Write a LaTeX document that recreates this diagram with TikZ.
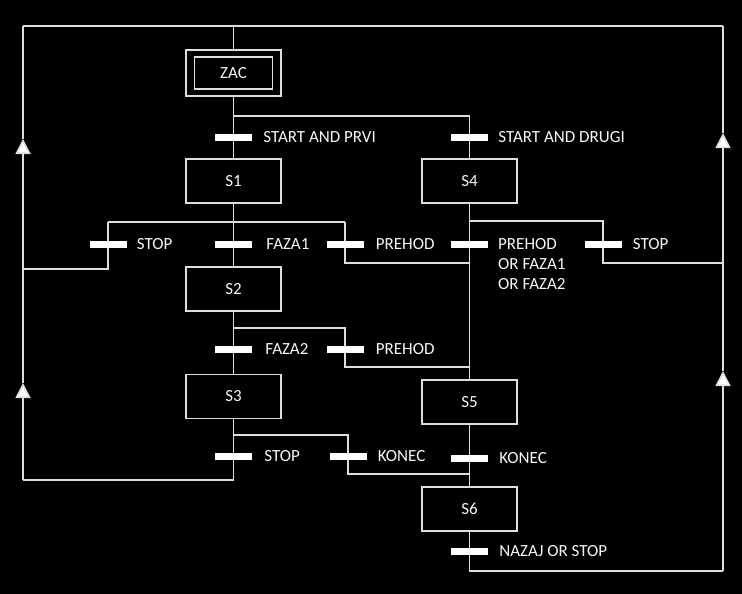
\documentclass[tikz,border=0pt]{standalone}
\usepackage{fontspec}
\setmainfont{Carlito}
\usetikzlibrary{positioning}
\usetikzlibrary{arrows.meta}
\pgfdeclarelayer{background}
\pgfsetlayers{background,main}
\definecolor{wire}{gray}{0.87}
\definecolor{ink}{gray}{0.97}
\tikzset{
  stepbox/.style={draw=wire, line width=1.5pt, fill=black, text=ink,
    minimum width=95pt, minimum height=44pt, font=\fontsize{17}{20}\selectfont},
  bar/.style={fill=white, minimum width=37pt, minimum height=7pt, inner sep=0pt},
  cond/.style={text=ink, inner sep=0pt, font=\fontsize{17}{20}\selectfont},
  link/.style={draw=wire, line width=1.6pt},
  flow/.style={-{Triangle[width=15pt,length=15pt,fill=white]}}
}

\begin{document}
\begin{tikzpicture}[x=1pt,y=-1pt]
\useasboundingbox (0,0) rectangle (742,594);

% steps
\node[stepbox, minimum height=46pt] (zac) at (233.5,73) {};
\node[stepbox, minimum width=78pt, minimum height=32pt] (zacin) at (zac) {ZAC};
\node[stepbox] (s1) at (233.5,181) {S1};
\node[stepbox] (s2) at (233.5,289) {S2};
\node[stepbox] (s3) at (233.5,396.5) {S3};
\node[stepbox] (s4) at (469.5,181) {S4};
\node[stepbox] (s5) at (469.5,402) {S5};
\node[stepbox] (s6) at (469.5,509) {S6};

% transitions
\node[bar] (t0) at (233.5,137) {};
\node[bar] (t4) at (469.5,137) {};
\node[bar] (tstopa) at (108,244) {};
\node[bar] (tfaza1) at (233.5,244) {};
\node[bar] (tprehoda) at (345,244) {};
\node[bar] (tor) at (469.5,244) {};
\node[bar] (tstopb) at (603,244) {};
\node[bar] (tfaza2) at (233.5,349) {};
\node[bar] (tprehodb) at (345,349) {};
\node[bar] (tstopc) at (233.5,456) {};
\node[bar] (tkoneca) at (348,456) {};
\node[bar] (tkonecb) at (469.5,458) {};
\node[bar] (tnazaj) at (469.5,551) {};

% conditions
\node[cond, right=11pt of t0] (c0) {START AND PRVI};
\node[cond, right=10pt of t4] (c4) {START AND DRUGI};
\node[cond, right=10pt of tstopa] (cstopa) {STOP};
\node[cond, right=14pt of tfaza1] (cfaza1) {FAZA1};
\node[cond, right=12pt of tprehoda] (cprehoda) {PREHOD};
\node[cond, anchor=north west, align=left] (cor) at (498,238.5) {PREHOD\\OR FAZA1\\OR FAZA2};
\node[cond, right=11pt of tstopb] (cstopb) {STOP};
\node[cond, right=13pt of tfaza2] (cfaza2) {FAZA2};
\node[cond, right=12pt of tprehodb] (cprehodb) {PREHOD};
\node[cond, right=12pt of tstopc] (cstopc) {STOP};
\node[cond, right=11pt of tkoneca] (ckoneca) {KONEC};
\node[cond, right=11pt of tkonecb] (ckonecb) {KONEC};
\node[cond, right=11pt of tnazaj, text depth=0pt] (cnazaj) {NAZAJ OR STOP};

% junctions
\coordinate (tl) at (23,26);
\coordinate (tr) at (723,26);
\coordinate (sp0) at (233.5,116);
\coordinate (ja) at (233.5,222);
\coordinate (ra) at (23,269);
\coordinate (qa) at (469.5,263);
\coordinate (jb) at (233.5,328);
\coordinate (qb) at (469.5,367);
\coordinate (jc) at (233.5,435);
\coordinate (qc) at (469.5,474);
\coordinate (bl) at (23,480);
\coordinate (la) at (23,383);
\coordinate (lb) at (23,139);
\coordinate (jd) at (469.5,221);
\coordinate (rd) at (723,263);
\coordinate (br) at (723,571);
\coordinate (rb) at (723,371);
\coordinate (rc) at (723,133);

\begin{pgfonlayer}{background}
\fill[black] (0,0) rectangle (742,594);
% main column
\draw[link] (zac.north) -- (zac.north |- tl);
\draw[link] (tl) -- (tr);
\draw[link] (zac) -- (s1);
\draw[link] (sp0) -| (s4.north);
\draw[link] (s1) -- (s2);
\draw[link] (s2) -- (s3);
\draw[link] (tstopa |- ja) -- (tprehoda |- ja);
\draw[link] (tstopa |- ja) |- (ra);
\draw[link] (tprehoda |- ja) |- (qa);
\draw[link] (jb) -| (tprehodb.center) |- (qb);
\draw[link] (jc) -| (tkoneca.center) |- (qc);
\draw[link] (s3.south) |- (bl);
\draw[link,flow] (bl) -- (la);
\draw[link,flow] (la) -- (lb);
\draw[link] (lb) -- (tl);
% second column
\draw[link] (s4) -- (s5);
\draw[link] (s5) -- (s6);
\draw[link] (jd) -| (tstopb.center) |- (rd);
\draw[link] (s6.south) |- (br);
\draw[link,flow] (br) -- (rb);
\draw[link,flow] (rb) -- (rc);
\draw[link] (rc) -- (tr);
\end{pgfonlayer}
\end{tikzpicture}
\end{document}
